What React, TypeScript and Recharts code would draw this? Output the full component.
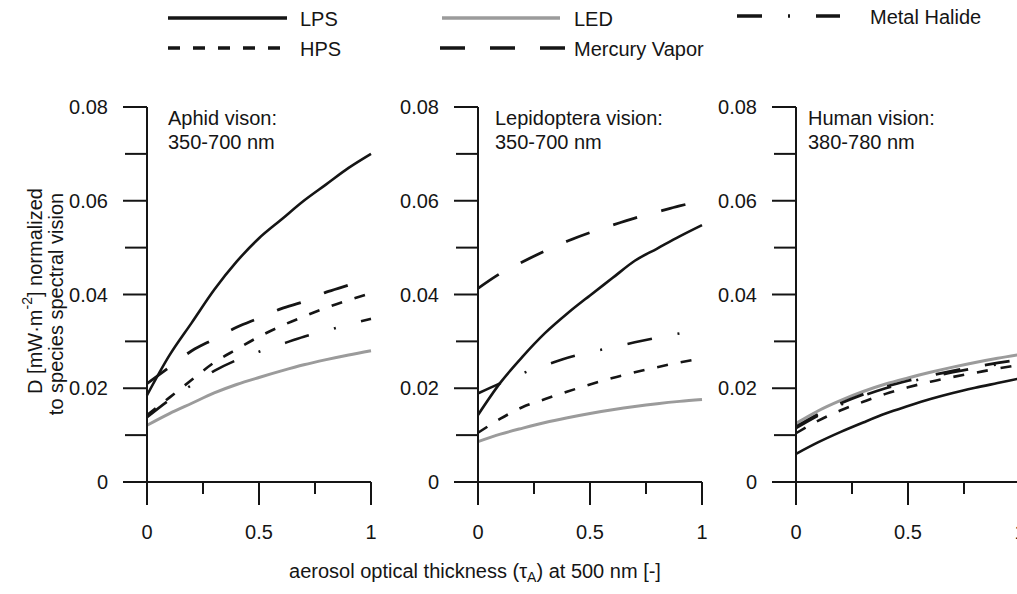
import React from 'react';
import { LineChart, Line, XAxis, YAxis } from 'recharts';

// aerosol optical thickness sampled along the x axis
const tau = [0, 0.1, 0.2, 0.3, 0.4, 0.5, 0.6, 0.7, 0.8, 0.9, 1];

// Aphid vision, 350-700 nm
const aphidLPS = [0.0185, 0.027, 0.034, 0.041, 0.047, 0.052, 0.056, 0.06, 0.0635, 0.067, 0.07];
const aphidHPS = [0.0143, 0.018, 0.0218, 0.0255, 0.0283, 0.031, 0.0333, 0.0353, 0.0372, 0.0388, 0.0403];
const aphidLED = [0.0121, 0.0146, 0.0168, 0.019, 0.0208, 0.0223, 0.0237, 0.025, 0.0261, 0.0271, 0.028];
const aphidMV = [0.021, 0.0245, 0.028, 0.0305, 0.033, 0.035, 0.037, 0.0385, 0.0405, 0.042, 0.0438];
const aphidMH = [0.0138, 0.0175, 0.0207, 0.0237, 0.026, 0.0278, 0.0294, 0.031, 0.0323, 0.0336, 0.0348];

// Lepidoptera vision, 350-700 nm
const lepLPS = [0.0143, 0.0212, 0.0268, 0.0318, 0.036, 0.0398, 0.0435, 0.0472, 0.0498, 0.0524, 0.0548];
const lepHPS = [0.0105, 0.0135, 0.016, 0.0177, 0.0193, 0.0208, 0.0222, 0.0234, 0.0245, 0.0255, 0.0264];
const lepLED = [0.0086, 0.0102, 0.0115, 0.0127, 0.0137, 0.0146, 0.0154, 0.0161, 0.0167, 0.0172, 0.0176];
const lepMV = [0.0413, 0.0445, 0.047, 0.0493, 0.0514, 0.0532, 0.0548, 0.0563, 0.0576, 0.0589, 0.06];
const lepMH = [0.0189, 0.0211, 0.0232, 0.0249, 0.0265, 0.0277, 0.0287, 0.0298, 0.0308, 0.0317, 0.0325];

// Human vision, 380-780 nm
const humLPS = [0.006, 0.0085, 0.0107, 0.0127, 0.0146, 0.0162, 0.0177, 0.019, 0.0201, 0.0211, 0.0221];
const humHPS = [0.0104, 0.0131, 0.0153, 0.0171, 0.0188, 0.0202, 0.0214, 0.0224, 0.0233, 0.0242, 0.025];
const humLED = [0.0125, 0.0152, 0.0174, 0.0193, 0.0209, 0.0222, 0.0234, 0.0245, 0.0255, 0.0264, 0.0272];
const humMV = [0.0118, 0.0145, 0.0168, 0.0187, 0.0203, 0.0216, 0.0227, 0.0237, 0.0246, 0.0254, 0.0261];
const humMH = [0.0115, 0.0142, 0.0165, 0.0184, 0.02, 0.0213, 0.0224, 0.0234, 0.0243, 0.0251, 0.0258];

const yTicks = [0, 0.01, 0.02, 0.03, 0.04, 0.05, 0.06, 0.07, 0.08];
const xTicks = [0, 0.25, 0.5, 0.75, 1];

const FONT = '"Liberation Sans", Arial, Helvetica, sans-serif';
const INK = '#151515';
const GRAY = '#9b9b9b';

const DASH_HPS = '11 13';
const DASH_MV = '25 25';
const DASH_MH = '25 26 2 26';

const Y_W = 95;

const buildRows = (lps: number[], hps: number[], led: number[], mv: number[], mh: number[]) =>
  tau.map((t, i) => ({ tau: t, LPS: lps[i], HPS: hps[i], LED: led[i], MV: mv[i], MH: mh[i] }));

const panels = [
  { title: 'Aphid vison:', range: '350-700 nm', axisX: 147, titleX: 168, rows: buildRows(aphidLPS, aphidHPS, aphidLED, aphidMV, aphidMH) },
  { title: 'Lepidoptera vision:', range: '350-700 nm', axisX: 478, titleX: 495, rows: buildRows(lepLPS, lepHPS, lepLED, lepMV, lepMH) },
  { title: 'Human vision:', range: '380-780 nm', axisX: 796, titleX: 808, rows: buildRows(humLPS, humHPS, humLED, humMV, humMH) },
];

const fmtY = (v: number) => (v === 0 ? '0' : v.toFixed(2));
const fmtX = (v: number) => (v === 0 ? '0' : v === 1 ? '1' : String(v));

const YTick = (props: any) => {
  const { x, y, payload } = props;
  const v = payload.value as number;
  const major = Math.round(v * 100) % 2 === 0;
  return (
    <g>
      <line x1={x} x2={x - (major ? 24 : 22)} y1={y} y2={y} stroke={INK} strokeWidth={2} />
      {major && (
        <text x={x - 39} y={y} textAnchor="end" dominantBaseline="central" fontSize={20} fontFamily={FONT} fill={INK}>
          {fmtY(v)}
        </text>
      )}
    </g>
  );
};

const XTick = (props: any) => {
  const { x, y, payload } = props;
  const v = payload.value as number;
  const major = Math.round(v * 100) % 50 === 0;
  return (
    <g>
      <line x1={x} x2={x} y1={y} y2={y + (major ? 23 : 12)} stroke={INK} strokeWidth={2} />
      {major && (
        <text x={x} y={y + 50} textAnchor="middle" dominantBaseline="central" fontSize={20} fontFamily={FONT} fill={INK}>
          {fmtX(v)}
        </text>
      )}
    </g>
  );
};

const Panel = ({ rows, axisX }: { rows: any[]; axisX: number }) => (
  <div style={{ position: 'absolute', left: axisX - Y_W, top: 87 }}>
    <LineChart width={Y_W + 224 + 20} height={455} data={rows} margin={{ top: 20, right: 20, left: 0, bottom: 0 }}>
      <XAxis
        dataKey="tau"
        type="number"
        domain={[0, 1]}
        ticks={xTicks}
        height={60}
        tickSize={0}
        tickMargin={0}
        tickLine={false}
        axisLine={{ stroke: INK, strokeWidth: 2 }}
        tick={<XTick />}
        interval={0}
      />
      <YAxis
        type="number"
        domain={[0, 0.08]}
        ticks={yTicks}
        width={Y_W}
        tickSize={0}
        tickMargin={0}
        tickLine={false}
        axisLine={{ stroke: INK, strokeWidth: 2 }}
        tick={<YTick />}
        interval={0}
      />
      <Line type="monotone" dataKey="LED" stroke={GRAY} strokeWidth={3} dot={false} isAnimationActive={false} />
      <Line type="monotone" dataKey="HPS" stroke={INK} strokeWidth={2.6} strokeDasharray={DASH_HPS} dot={false} isAnimationActive={false} />
      <Line type="monotone" dataKey="MH" stroke={INK} strokeWidth={2.6} strokeDasharray={DASH_MH} dot={false} isAnimationActive={false} />
      <Line type="monotone" dataKey="MV" stroke={INK} strokeWidth={2.8} strokeDasharray={DASH_MV} dot={false} isAnimationActive={false} />
      <Line type="monotone" dataKey="LPS" stroke={INK} strokeWidth={2.6} dot={false} isAnimationActive={false} />
    </LineChart>
  </div>
);

const legendItems = [
  { label: 'LPS', x: 168, y: 18, len: 119, color: INK, dash: undefined, tx: 300 },
  { label: 'HPS', x: 168, y: 48, len: 112, color: INK, dash: '12 13', tx: 300 },
  { label: 'LED', x: 442, y: 18, len: 118, color: GRAY, dash: undefined, tx: 574 },
  { label: 'Mercury Vapor', x: 440, y: 48, len: 125, color: INK, dash: DASH_MV, tx: 574 },
  { label: 'Metal Halide', x: 737, y: 16, len: 103, color: INK, dash: DASH_MH, tx: 870 },
];

export default function App() {
  return (
    <div style={{ position: 'fixed', left: 0, top: 0, width: 1017, height: 594, overflow: 'hidden', background: '#fff' }}>
      {panels.map((p) => (
        <Panel key={p.title} rows={p.rows} axisX={p.axisX} />
      ))}
      <svg width={1017} height={594} style={{ position: 'absolute', left: 0, top: 0, pointerEvents: 'none' }} fontFamily={FONT} fill={INK}>
        {legendItems.map((it) => (
          <g key={it.label}>
            <line x1={it.x} x2={it.x + it.len} y1={it.y} y2={it.y} stroke={it.color} strokeWidth={3.5} strokeDasharray={it.dash} />
            <text x={it.tx} y={it.y + 1} dominantBaseline="central" fontSize={20}>{it.label}</text>
          </g>
        ))}
        {panels.map((p) => (
          <g key={p.title}>
            <text x={p.titleX} y={118} dominantBaseline="central" fontSize={20}>{p.title}</text>
            <text x={p.titleX} y={142} dominantBaseline="central" fontSize={20}>{p.range}</text>
          </g>
        ))}
        <text transform="translate(35,291) rotate(-90)" textAnchor="middle" dominantBaseline="central" fontSize={20}>
          D [mW·m<tspan fontSize={14} dy={-8}>-2</tspan><tspan dy={8}>] normalized</tspan>
        </text>
        <text transform="translate(56,304) rotate(-90)" textAnchor="middle" dominantBaseline="central" fontSize={20}>
          to species spectral vision
        </text>
        <text x={475} y={571} textAnchor="middle" dominantBaseline="central" fontSize={20}>
          aerosol optical thickness (τ<tspan fontSize={14} dy={6}>A</tspan><tspan dy={-6}>) at 500 nm [-]</tspan>
        </text>
      </svg>
    </div>
  );
}
